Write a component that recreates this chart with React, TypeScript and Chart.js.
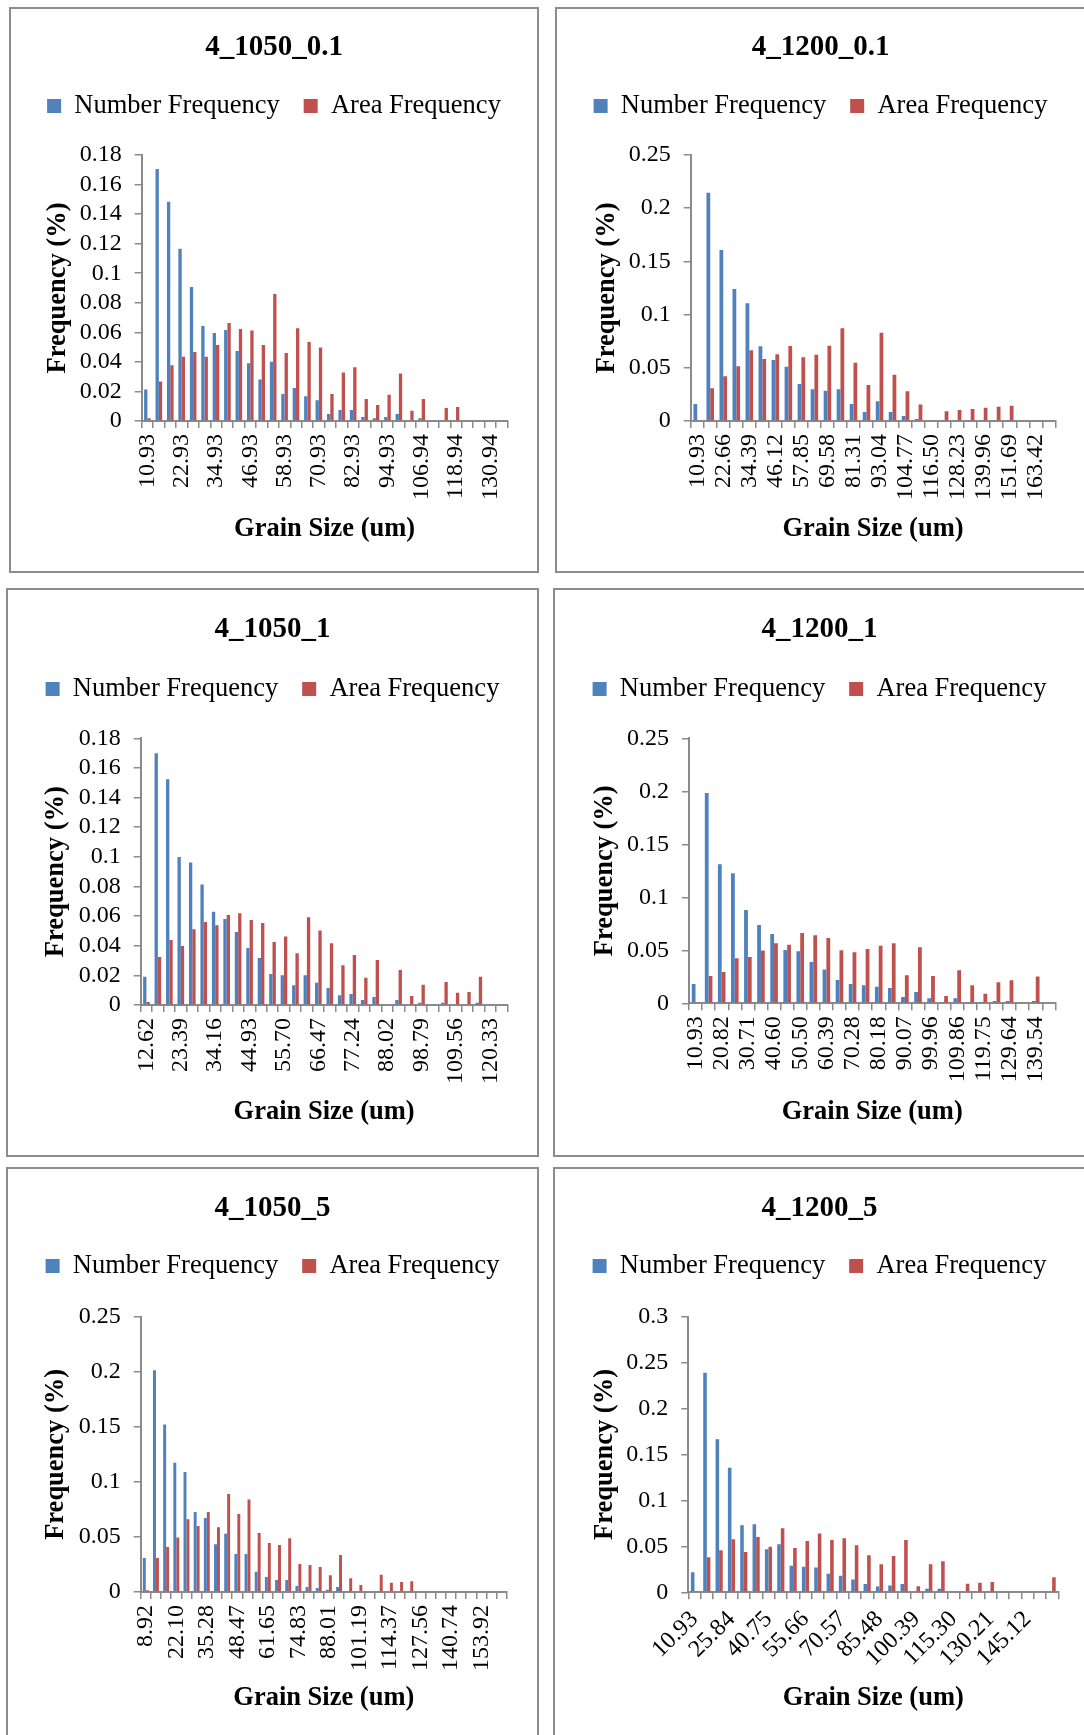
import React, { useEffect, useRef } from 'react';
import { Chart, registerables } from 'chart.js';

Chart.register(...registerables);

// ---------------- DATA ----------------
const SERIES_NUMBER = 'Number Frequency';
const SERIES_AREA = 'Area Frequency';
const X_TITLE = 'Grain Size (um)';
const Y_TITLE = 'Frequency (%)';

// 4_1050_0.1
const cats1050_01 = ['10.93','14.93','18.93','22.93','26.93','30.93','34.93','38.93','42.93','46.93','50.93','54.93','58.93','62.93','66.93','70.93','74.93','78.93','82.93','86.93','90.93','94.93','98.94','102.94','106.94','110.94','114.94','118.94','122.94','126.94','130.94','134.94'];
const num1050_01 = [0.0214,0.1705,0.1484,0.1166,0.0906,0.0643,0.0595,0.0616,0.0473,0.039,0.028,0.0401,0.0183,0.0223,0.0167,0.014,0.0047,0.0074,0.0074,0.0027,0.0018,0.0027,0.0047,0.0004,0.0018,0,0.0005,0,0,0,0,0];
const area1050_01 = [0.0018,0.0268,0.0377,0.0435,0.0467,0.0435,0.0514,0.0663,0.0622,0.0613,0.0514,0.0859,0.046,0.0627,0.0534,0.0498,0.0183,0.0329,0.0363,0.0149,0.0108,0.0178,0.0322,0.007,0.0149,0,0.0088,0.0095,0,0,0,0];

// 4_1200_0.1
const cats1200_01 = ['10.93','16.80','22.66','28.53','34.39','40.26','46.12','51.99','57.85','63.72','69.58','75.45','81.31','87.18','93.04','98.91','104.77','110.64','116.50','122.37','128.23','134.10','139.96','145.83','151.69','157.56','163.42','169.29'];
const num1200_01 = [0.016,0.2146,0.1607,0.124,0.1106,0.0702,0.0573,0.0511,0.0348,0.0298,0.0285,0.0298,0.016,0.0085,0.0185,0.0085,0.0047,0.0019,0,0.0005,0.0004,0.0003,0.0003,0.0003,0.0003,0,0,0];
const area1200_01 = [0,0.0307,0.042,0.0514,0.0664,0.0583,0.0627,0.0705,0.0598,0.0623,0.0708,0.0871,0.0548,0.0338,0.083,0.0435,0.0279,0.0154,0,0.0091,0.0103,0.0113,0.0125,0.0135,0.0144,0,0,0];

// 4_1050_1
const cats1050_1 = ['12.62','16.21','19.80','23.39','26.98','30.57','34.16','37.75','41.34','44.93','48.52','52.11','55.70','59.29','62.88','66.47','70.06','73.65','77.24','80.83','84.43','88.02','91.61','95.20','98.79','102.38','105.97','109.56','113.15','116.74','120.33','123.92'];
const num1050_1 = [0.0191,0.1699,0.1523,0.0999,0.0961,0.0814,0.063,0.058,0.0493,0.0385,0.0317,0.0209,0.02,0.0133,0.02,0.0151,0.0115,0.0065,0.0074,0.0034,0.0054,0,0.0034,0.0005,0.0016,0,0.0016,0.0005,0.0005,0.0016,0,0];
const area1050_1 = [0.002,0.0324,0.0439,0.0398,0.0511,0.056,0.0538,0.0607,0.0619,0.0574,0.0553,0.0425,0.0463,0.0349,0.0592,0.0502,0.0416,0.0268,0.0337,0.0184,0.0304,0,0.0236,0.0061,0.0137,0,0.0155,0.0083,0.0088,0.0191,0,0];

// 4_1200_1
const cats1200_1 = ['10.93','15.88','20.82','25.77','30.71','35.66','40.60','45.55','50.50','55.44','60.39','65.34','70.28','75.23','80.18','85.12','90.07','95.02','99.96','104.91','109.86','114.80','119.75','124.70','129.64','134.59','139.54','144.48'];
const num1200_1 = [0.0182,0.1984,0.1311,0.1226,0.088,0.0739,0.0654,0.0503,0.0491,0.039,0.0318,0.022,0.0182,0.017,0.0157,0.0145,0.006,0.0107,0.0047,0.0013,0.0047,0.0009,0.0013,0.0022,0.0022,0,0.0022,0];
const area1200_1 = [0.0006,0.0258,0.0296,0.0425,0.0437,0.0497,0.0566,0.0553,0.0664,0.0642,0.0616,0.05,0.0481,0.0513,0.0544,0.0566,0.0264,0.0528,0.0258,0.0069,0.0311,0.017,0.0091,0.0198,0.0217,0,0.0252,0];

// 4_1050_5
const cats1050_5 = ['8.92','13.31','17.71','22.10','26.49','30.89','35.28','39.68','44.07','48.47','52.86','57.25','61.65','66.04','70.44','74.83','79.22','83.62','88.01','92.41','96.80','101.19','105.59','109.98','114.37','118.77','123.16','127.56','131.95','136.34','140.74','145.13','149.53','153.92','158.31','162.71'];
const num1050_5 = [0.0309,0.2013,0.1522,0.1174,0.109,0.0726,0.0672,0.0433,0.053,0.0345,0.0345,0.0185,0.0136,0.0109,0.0109,0.0054,0.0045,0.0036,0.0021,0.0045,0.0009,0,0,0.0009,0,0,0,0,0,0,0,0,0,0,0,0];
const area1050_5 = [0.0015,0.0309,0.0409,0.0496,0.066,0.0599,0.0726,0.0587,0.089,0.0708,0.0841,0.0536,0.0445,0.0427,0.0487,0.0254,0.0245,0.0227,0.0151,0.0336,0.0124,0.0064,0,0.0157,0.0085,0.0091,0.0097,0,0,0,0,0,0,0,0,0];

// 4_1200_5
const cats1200_5 = ['10.93','15.90','20.87','25.84','30.81','35.78','40.75','45.72','50.69','55.66','60.63','65.60','70.57','75.54','80.51','85.48','90.45','95.42','100.39','105.36','110.33','115.30','120.27','125.24','130.21','135.18','140.15','145.12','150.09','155.06'];
const num1200_5 = [0.0218,0.2391,0.1665,0.1357,0.0729,0.074,0.0468,0.0523,0.029,0.0279,0.0269,0.0203,0.0181,0.0138,0.0091,0.0062,0.0073,0.0091,0,0.004,0.004,0,0,0,0,0,0,0,0,0];
const area1200_5 = [0.0005,0.0381,0.0457,0.0577,0.0439,0.0602,0.0497,0.0697,0.0483,0.0559,0.0639,0.057,0.0588,0.0512,0.0403,0.0305,0.0396,0.057,0.0065,0.0305,0.0337,0,0.0094,0.0105,0.0112,0,0,0,0,0.0163];

// ---------------- STYLE / LAYOUT ----------------
const FONT = "'Liberation Serif', 'Times New Roman', Times, serif";
const BLUE = '#4F81BD';
const RED = '#C0504D';
const AXIS = '#8A8A8A';
const FRAME = '#8C8C8C';
const BORDER = 2;
const TITLE_SIZE = 29;
const LEGEND_SIZE = 26.5;
const LEGEND_PAD = 24;
const LEGEND_BOX = 14;
const AXIS_TITLE_SIZE = 26.5;
const TICK_SIZE = 24;

type Panel = {
  title: string; cats: string[]; num: number[]; area: number[];
  yMax: number; yStep: number; every: number; rot: number;
  box: { l: number; t: number; r: number; b: number };
  plot: { l: number; t: number; r: number; b: number };
  titleY: number; legendY: number; xTitleY: number; yTitleX: number;
};

const PANELS: Panel[] = [
  { title: '4_1050_0.1', cats: cats1050_01, num: num1050_01, area: area1050_01, yMax: 0.18, yStep: 0.02, every: 3, rot: 90,
    box: { l: 9, t: 7, r: 539, b: 573 }, plot: { l: 141.7, t: 155, r: 508, b: 421 },
    titleY: 48, legendY: 106, xTitleY: 529.5, yTitleX: 58.5 },
  { title: '4_1200_0.1', cats: cats1200_01, num: num1200_01, area: area1200_01, yMax: 0.25, yStep: 0.05, every: 2, rot: 90,
    box: { l: 555, t: 7, r: 1086, b: 573 }, plot: { l: 690.7, t: 155, r: 1063, b: 421 },
    titleY: 48, legendY: 106, xTitleY: 529.5, yTitleX: 607 },
  { title: '4_1050_1', cats: cats1050_1, num: num1050_1, area: area1050_1, yMax: 0.18, yStep: 0.02, every: 3, rot: 90,
    box: { l: 6, t: 588, r: 539, b: 1157 }, plot: { l: 140.7, t: 738.3, r: 508, b: 1005 },
    titleY: 630, legendY: 689, xTitleY: 1112, yTitleX: 56 },
  { title: '4_1200_1', cats: cats1200_1, num: num1200_1, area: area1200_1, yMax: 0.25, yStep: 0.05, every: 2, rot: 90,
    box: { l: 553, t: 588, r: 1086, b: 1157 }, plot: { l: 689, t: 738.3, r: 1064, b: 1003.3 },
    titleY: 630, legendY: 689, xTitleY: 1112, yTitleX: 605 },
  { title: '4_1050_5', cats: cats1050_5, num: num1050_5, area: area1050_5, yMax: 0.25, yStep: 0.05, every: 3, rot: 90,
    box: { l: 6, t: 1167, r: 539, b: 1737 }, plot: { l: 140.7, t: 1316.7, r: 508.7, b: 1592 },
    titleY: 1209, legendY: 1266, xTitleY: 1698.5, yTitleX: 56 },
  { title: '4_1200_5', cats: cats1200_5, num: num1200_5, area: area1200_5, yMax: 0.3, yStep: 0.05, every: 3, rot: 45,
    box: { l: 553, t: 1167, r: 1086, b: 1737 }, plot: { l: 688.3, t: 1316.7, r: 1058.3, b: 1592.3 },
    titleY: 1209, legendY: 1266, xTitleY: 1698.5, yTitleX: 605 },
];

function PanelChart({ p }: { p: Panel }) {
  const ref = useRef<HTMLCanvasElement>(null);
  const b = p.box;
  const ox = b.l + BORDER;
  const oy = b.t + BORDER;
  const cw = b.r - b.l - 2 * BORDER;
  const ch = b.b - b.t - 2 * BORDER;

  useEffect(() => {
    if (!ref.current) return;
    const titleLH = TITLE_SIZE * 1.2;
    const padTop = p.titleY - oy - titleLH / 2;
    const itemH = Math.max(LEGEND_SIZE, LEGEND_BOX);
    const titleBottom = p.legendY - oy - LEGEND_PAD - itemH / 2;
    const padBottom = Math.max(0, titleBottom - padTop - titleLH);
    const legendExtra = (p.plot.t - oy) - (padTop + titleLH + padBottom + itemH + LEGEND_PAD + 10);
    const axLH = AXIS_TITLE_SIZE * 1.2;
    const yPadTop = p.yTitleX - ox - axLH / 2;
    const xPadBottom = oy + ch - p.xTitleY - axLH / 2;
    const rightGap = ox + cw - p.plot.r;

    const chart = new Chart(ref.current, {
      type: 'bar',
      data: {
        labels: p.cats,
        datasets: [
          { label: SERIES_NUMBER, data: p.num, backgroundColor: BLUE, borderWidth: 0, categoryPercentage: 0.58, barPercentage: 1 },
          { label: SERIES_AREA, data: p.area, backgroundColor: RED, borderWidth: 0, categoryPercentage: 0.58, barPercentage: 1 },
        ],
      },
      options: {
        responsive: false,
        animation: false,
        devicePixelRatio: 1,
        layout: { padding: 0 },
        plugins: {
          tooltip: { enabled: false },
          title: {
            display: true, text: p.title, color: '#000',
            font: { family: FONT, size: TITLE_SIZE, weight: 'bold', lineHeight: 1.2 },
            padding: { top: padTop, bottom: padBottom },
          },
          legend: {
            display: true, position: 'top',
            labels: {
              color: '#000', boxWidth: LEGEND_BOX, boxHeight: LEGEND_BOX, padding: LEGEND_PAD,
              font: { family: FONT, size: LEGEND_SIZE },
            },
          },
        },
        scales: {
          x: {
            offset: true,
            grid: { display: true, offset: true, drawOnChartArea: false, drawTicks: true, tickLength: 7, color: AXIS, lineWidth: 1.5 },
            border: { display: true, color: AXIS, width: 2 },
            ticks: {
              autoSkip: false, maxRotation: p.rot, minRotation: p.rot, padding: 6, color: '#000',
              font: { family: FONT, size: TICK_SIZE },
              callback: function (_v: any, i: number) { return i % p.every === 0 ? p.cats[i] : ''; },
            },
            title: {
              display: true, text: X_TITLE, color: '#000',
              font: { family: FONT, size: AXIS_TITLE_SIZE, weight: 'bold', lineHeight: 1.2 },
              padding: { top: 0, bottom: xPadBottom },
            },
            afterFit: (s: any) => { s.height = oy + ch - p.plot.b; },
          },
          y: {
            min: 0, max: p.yMax,
            grid: { display: true, drawOnChartArea: false, drawTicks: true, tickLength: 7, color: AXIS, lineWidth: 1.5 },
            border: { display: true, color: AXIS, width: 2 },
            ticks: {
              stepSize: p.yStep, autoSkip: false, padding: 13, color: '#000',
              font: { family: FONT, size: TICK_SIZE },
              callback: (v: any) => String(Number(Number(v).toFixed(2))),
            },
            title: {
              display: true, text: Y_TITLE, color: '#000',
              font: { family: FONT, size: AXIS_TITLE_SIZE, weight: 'bold', lineHeight: 1.2 },
              padding: { top: yPadTop, bottom: 0 },
            },
            afterFit: (s: any) => { s.width = p.plot.l - ox; },
          },
          gap: {
            type: 'linear', position: 'right', display: true,
            grid: { display: false }, border: { display: false },
            ticks: { display: false }, title: { display: false },
            afterFit: (s: any) => { s.width = rightGap; },
          },
        },
      } as any,
      plugins: [{
        id: 'legendGap',
        beforeInit(c: any) {
          const fit = c.legend.fit;
          c.legend.fit = function () { fit.call(this); this.height += legendExtra; };
        },
      }],
    });
    return () => chart.destroy();
  }, []);

  return (
    <div style={{
      position: 'absolute', left: b.l, top: b.t, width: b.r - b.l, height: b.b - b.t,
      border: `${BORDER}px solid ${FRAME}`, boxSizing: 'border-box', background: '#fff',
    }}>
      <canvas ref={ref} width={cw} height={ch} style={{ display: 'block', width: cw, height: ch }} />
    </div>
  );
}

export default function App() {
  return (
    <div style={{ position: 'absolute', left: 0, top: 0, width: 1084, height: 1735, overflow: 'hidden', background: '#fff' }}>
      {PANELS.map((p) => <PanelChart key={p.title} p={p} />)}
    </div>
  );
}
